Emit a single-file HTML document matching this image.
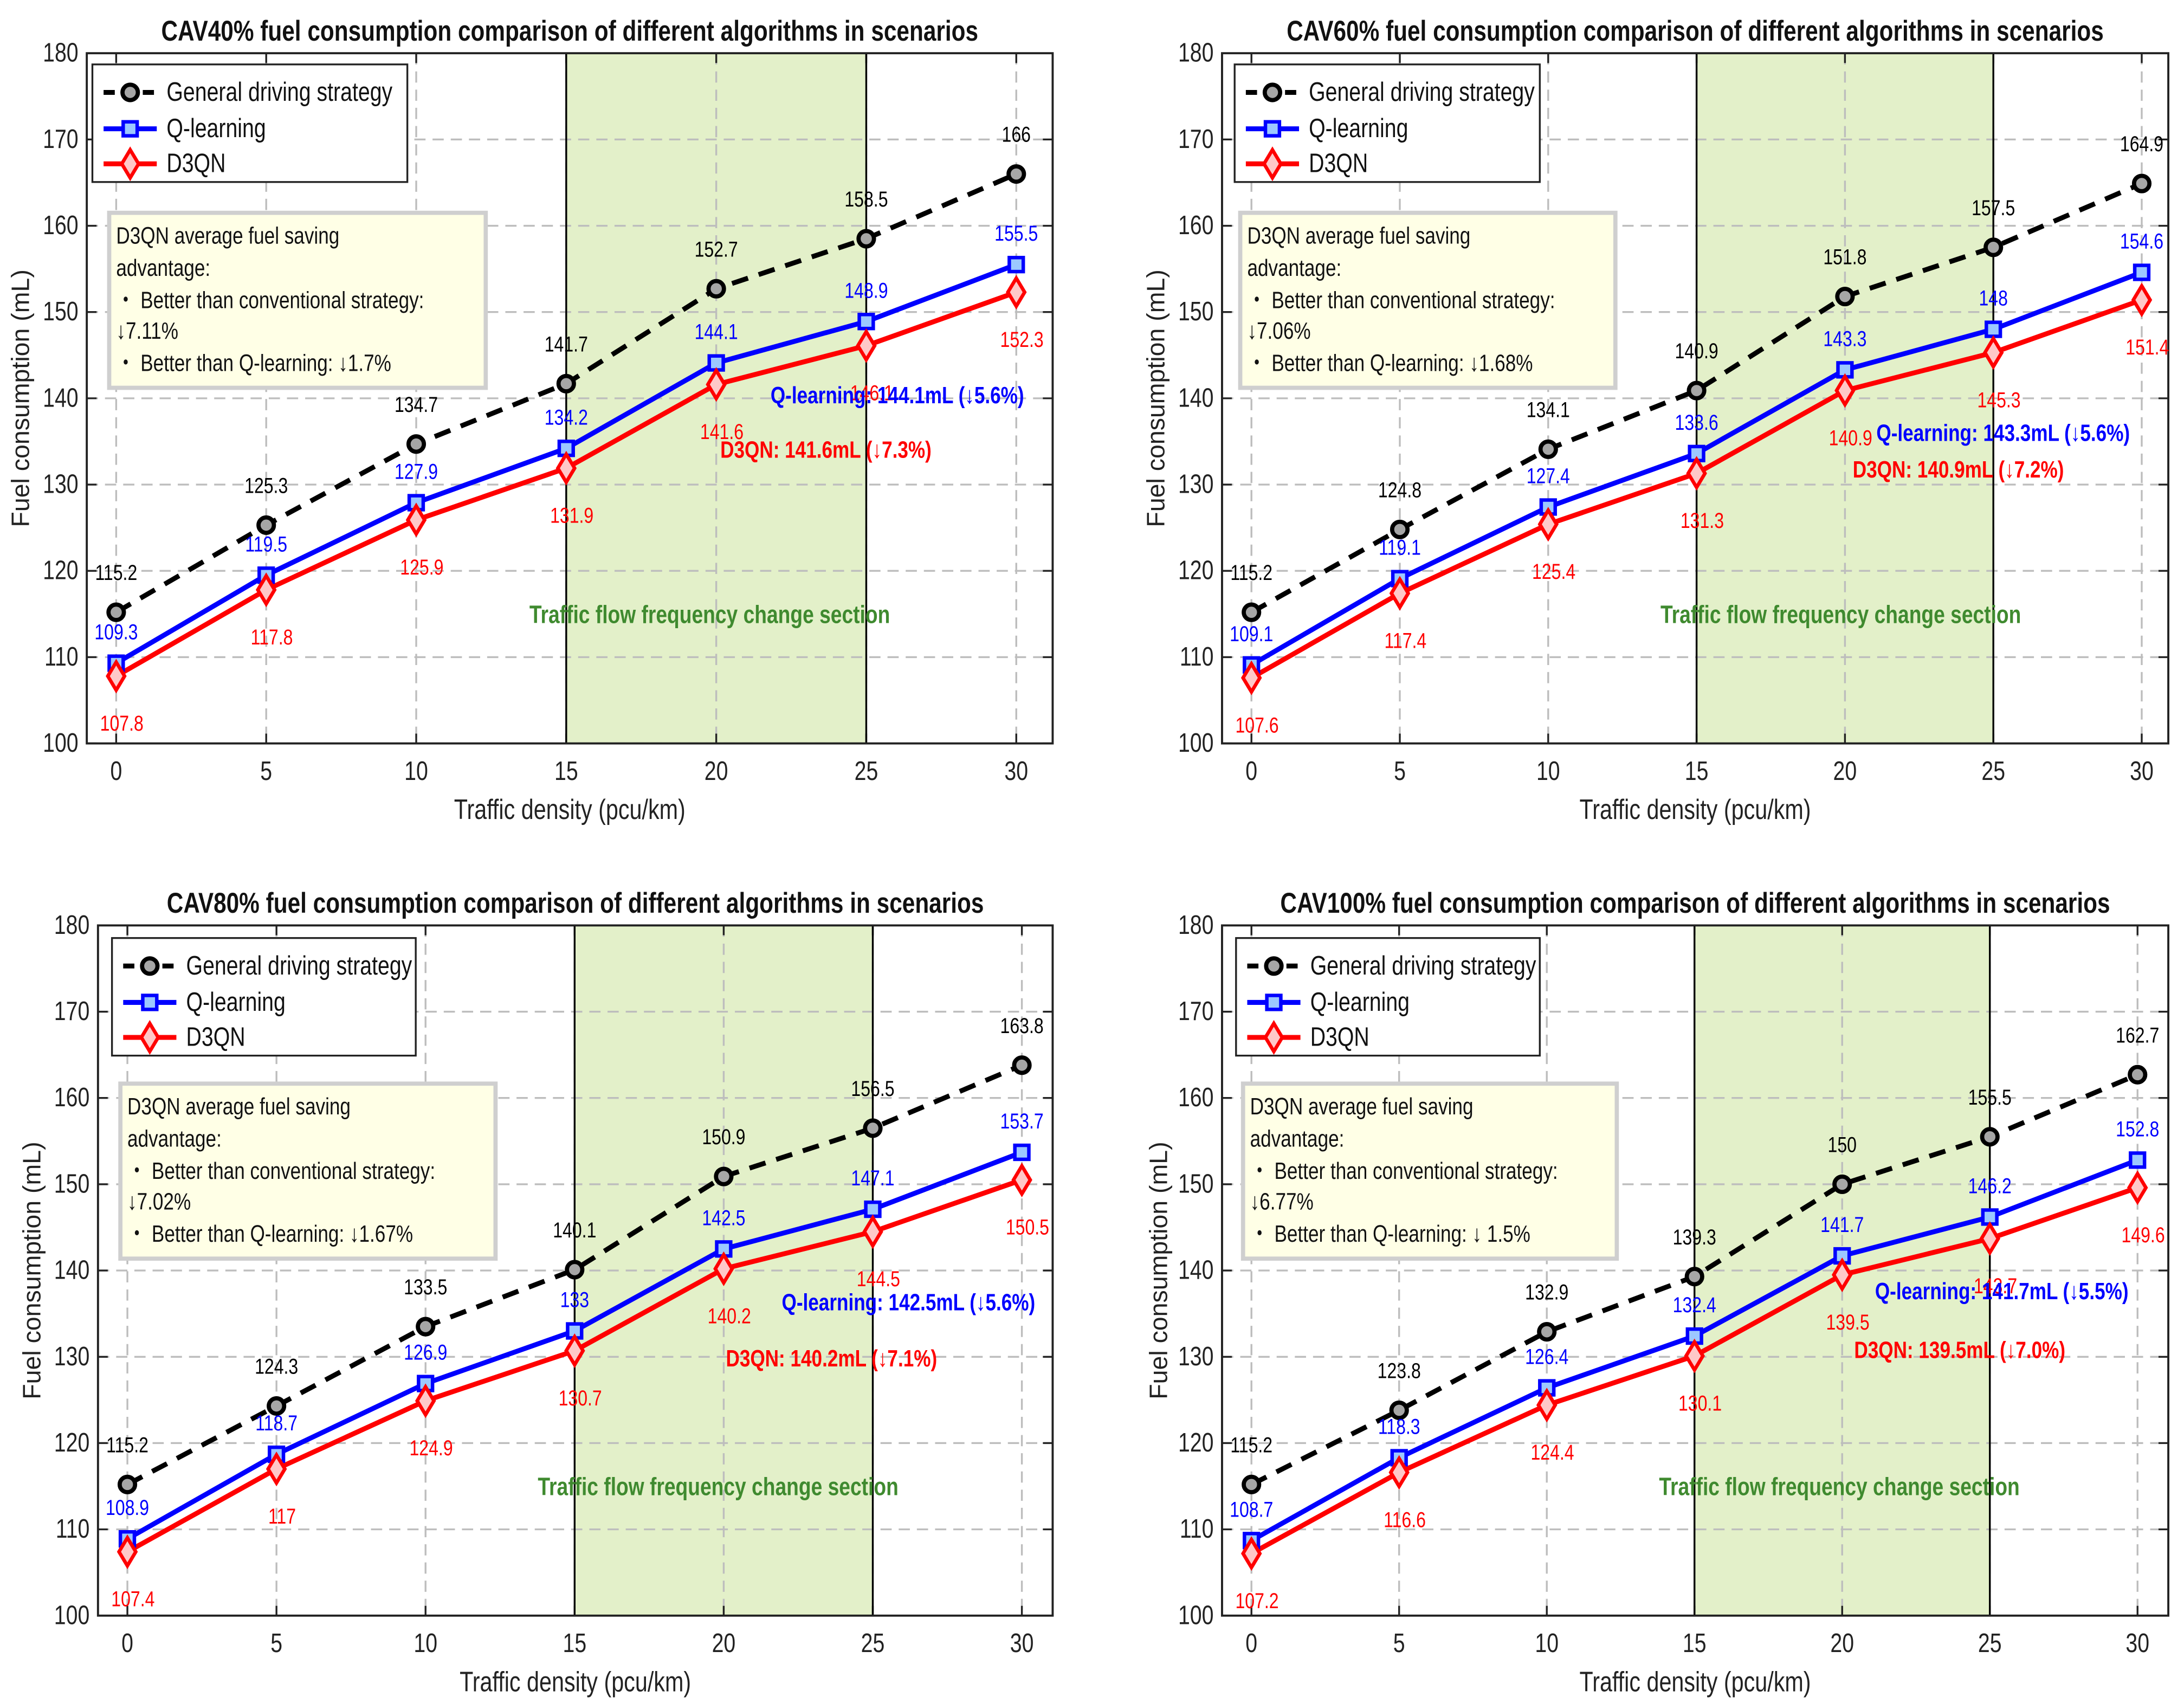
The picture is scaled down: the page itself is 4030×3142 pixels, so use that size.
<!DOCTYPE html>
<html><head><meta charset="utf-8">
<style>
html,body{margin:0;padding:0;background:#fff;}
svg{display:block;}
text{font-family:"Liberation Sans Narrow","Liberation Sans",sans-serif;}
</style></head>
<body>
<svg id="fig" xmlns="http://www.w3.org/2000/svg" width="4030" height="3142" viewBox="0 0 1560.2 1216.4"></svg>
<script>
const xCategories = [0, 5, 10, 15, 20, 25, 30];
const yTicks = [100, 110, 120, 130, 140, 150, 160, 170, 180];
const seriesNames = ["General driving strategy", "Q-learning", "D3QN"];
const generalP1 = [115.2, 125.3, 134.7, 141.7, 152.7, 158.5, 166];
const qlearnP1 = [109.3, 119.5, 127.9, 134.2, 144.1, 148.9, 155.5];
const d3qnP1 = [107.8, 117.8, 125.9, 131.9, 141.6, 146.1, 152.3];
const generalP2 = [115.2, 124.8, 134.1, 140.9, 151.8, 157.5, 164.9];
const qlearnP2 = [109.1, 119.1, 127.4, 133.6, 143.3, 148, 154.6];
const d3qnP2 = [107.6, 117.4, 125.4, 131.3, 140.9, 145.3, 151.4];
const generalP3 = [115.2, 124.3, 133.5, 140.1, 150.9, 156.5, 163.8];
const qlearnP3 = [108.9, 118.7, 126.9, 133, 142.5, 147.1, 153.7];
const d3qnP3 = [107.4, 117, 124.9, 130.7, 140.2, 144.5, 150.5];
const generalP4 = [115.2, 123.8, 132.9, 139.3, 150, 155.5, 162.7];
const qlearnP4 = [108.7, 118.3, 126.4, 132.4, 141.7, 146.2, 152.8];
const d3qnP4 = [107.2, 116.6, 124.4, 130.1, 139.5, 143.7, 149.6];
const shadedRange = [15, 25];
const titles = ["CAV40% fuel consumption comparison of different algorithms in scenarios","CAV60% fuel consumption comparison of different algorithms in scenarios","CAV80% fuel consumption comparison of different algorithms in scenarios","CAV100% fuel consumption comparison of different algorithms in scenarios"];
const convSaving = ["\u21937.11%","\u21937.06%","\u21937.02%","\u21936.77%"];
const qSaving = ["\u21931.7%","\u21931.68%","\u21931.67%","\u2193 1.5%"];
const qSummary = ["Q-learning: 144.1mL (\u21935.6%)","Q-learning: 143.3mL (\u21935.6%)","Q-learning: 142.5mL (\u21935.6%)","Q-learning: 141.7mL (\u21935.5%)"];
const dSummary = ["D3QN: 141.6mL (\u21937.3%)","D3QN: 140.9mL (\u21937.2%)","D3QN: 140.2mL (\u21937.1%)","D3QN: 139.5mL (\u21937.0%)"];

const layouts = [
 {L:62,R:752,T:38,B:531,x0:83,x30:726,leg:[66,46,225],box:[78,152,269],yl:16,qs:[641,282],ds:[590,321],tf:[507,439]},
 {L:873,R:1549,T:38,B:531,x0:894,x30:1530,leg:[882,46,218],box:[886,152,268],yl:827,qs:[1431,309],ds:[1399,335],tf:[1315,439]},
 {L:70,R:752,T:661,B:1154,x0:91,x30:730,leg:[80,670,217],box:[86,774,268],yl:24,qs:[649,930],ds:[594,970],tf:[513,1062]},
 {L:873,R:1549,T:661,B:1154,x0:894,x30:1527,leg:[883,670,217],box:[888,774,267],yl:829,qs:[1430,922],ds:[1400,964],tf:[1314,1062]}
];
const seriesData = [[generalP1,qlearnP1,d3qnP1],[generalP2,qlearnP2,d3qnP2],[generalP3,qlearnP3,d3qnP3],[generalP4,qlearnP4,d3qnP4]];

const NS = "http://www.w3.org/2000/svg";
const svg = document.getElementById("fig");
const SX = 0.8;
function mk(tag, attrs, parent, txt){
  const e = document.createElementNS(NS, tag);
  for (const k in attrs) e.setAttribute(k, attrs[k]);
  if (txt !== undefined) e.textContent = txt;
  (parent||svg).appendChild(e);
  return e;
}
function T(parent, x, y, str, attrs){
  const a = Object.assign({x:0, y:0, transform:`translate(${x},${y}) scale(${SX},1)`}, attrs);
  return mk("text", a, parent, str);
}
function marker(g, kind, x, y){
  let m;
  if (kind === 0) m = mk("circle",{cx:x,cy:y,r:5.5,fill:"#a6a6a6",stroke:"#000","stroke-width":3},g);
  else if (kind === 1) m = mk("rect",{x:x-5,y:y-5,width:10,height:10,fill:"#9cc8ff",stroke:"#0000ff","stroke-width":2.5},g);
  else m = mk("polygon",{points:`${x},${y-10} ${x+6},${y} ${x},${y+10} ${x-6},${y}`,fill:"#ffc8c8",stroke:"#ff0000","stroke-width":2.5},g);
  return m;
}
const colors = ["#000","#0000ff","#ff0000"];

layouts.forEach((P, pi) => {
  const g = mk("g",{});
  
  
  const xs = v => P.x0 + (v - xCategories[0]) / (xCategories[xCategories.length-1] - xCategories[0]) * (P.x30 - P.x0);
  const ys = v => P.B - (v - yTicks[0]) / (yTicks[yTicks.length-1] - yTicks[0]) * (P.B - P.T);
  const sh = mk("rect",{x:xs(shadedRange[0]),y:P.T,width:xs(shadedRange[1])-xs(shadedRange[0]),height:P.B-P.T,fill:"#e3f0c9"},g);
  
  
  yTicks.forEach(t => {
    const gl = mk("line",{x1:P.L,x2:P.R,y1:ys(t),y2:ys(t),stroke:"#bdbdbd","stroke-width":1.3,"stroke-dasharray":"8,5"},g);
    
    
    mk("line",{x1:P.L,x2:P.L+7,y1:ys(t),y2:ys(t),stroke:"#222","stroke-width":1.3},g);
    mk("line",{x1:P.R,x2:P.R-7,y1:ys(t),y2:ys(t),stroke:"#222","stroke-width":1.3},g);
    const tl = T(g, P.L-6, ys(t)+6, String(t), {"text-anchor":"end","font-size":19,fill:"#222"});
    
    
  });
  xCategories.forEach(c => {
    const gl = mk("line",{x1:xs(c),x2:xs(c),y1:P.T,y2:P.B,stroke:"#bdbdbd","stroke-width":1.3,"stroke-dasharray":"8,5"},g);
    
    
    mk("line",{x1:xs(c),x2:xs(c),y1:P.B,y2:P.B-7,stroke:"#222","stroke-width":1.3},g);
    mk("line",{x1:xs(c),x2:xs(c),y1:P.T,y2:P.T+7,stroke:"#222","stroke-width":1.3},g);
    const tl = T(g, xs(c), P.B+26, String(c), {"text-anchor":"middle","font-size":19,fill:"#222"});
    
    
  });
  [shadedRange[0],shadedRange[1]].forEach(v=>{
    const b = mk("line",{x1:xs(v),x2:xs(v),y1:P.T,y2:P.B,stroke:"#000","stroke-width":1.3},g);
    
    
  });
  const frame = mk("rect",{x:P.L,y:P.T,width:P.R-P.L,height:P.B-P.T,fill:"none",stroke:"#222","stroke-width":1.5},g);
  
  
  const tf = T(g, P.tf[0], P.tf[1]+6, "Traffic flow frequency change section", {"text-anchor":"middle","font-size":18,"font-weight":"bold",fill:"#3f8a2f"});
  
  
  seriesData[pi].forEach((arr, si) => {
    const pts = arr.map((v,i)=>xs(xCategories[i])+","+ys(v)).join(" ");
    const line = mk("polyline",{points:pts,fill:"none",stroke:colors[si],"stroke-width":3.5,"stroke-dasharray":si===0?"12,8":"none","stroke-linejoin":"round"},g);
    
    
  });
  seriesData[pi].forEach((arr, si) => {
    arr.forEach((v,i)=>{
      const m = marker(g, si, xs(xCategories[i]), ys(v));
      
      
      const dy = si===0 ? -23 : (si===1 ? -17 : 39);
      const dx = si===2 ? 4 : 0;
      const lab = T(g, xs(xCategories[i])+dx, ys(v)+dy, String(v), {"text-anchor":"middle","font-size":15.5,fill:colors[si]});
      
      
    });
  });
  const qs = T(g, P.qs[0], P.qs[1]+6, qSummary[pi], {"text-anchor":"middle","font-size":17,"font-weight":"bold",fill:"#0000ff"});
  
  
  const ds = T(g, P.ds[0], P.ds[1]+6, dSummary[pi], {"text-anchor":"middle","font-size":17,"font-weight":"bold",fill:"#ff0000"});
  
  
  const [lx,ly,lw] = P.leg;
  const lg = mk("g",{},g);
  
  
  mk("rect",{x:lx,y:ly,width:lw,height:84,fill:"#fff",stroke:"#222","stroke-width":1.3},lg);
  [20,46,71].forEach((dy,si)=>{
    const e = mk("g",{},lg);
    
    
    mk("line",{x1:lx+8,x2:lx+46,y1:ly+dy,y2:ly+dy,stroke:colors[si],"stroke-width":3.5,"stroke-dasharray":si===0?"8,6":"none"},e);
    marker(e, si, lx+27, ly+dy);
    T(e, lx+53, ly+dy+6, seriesNames[si], {"font-size":19,fill:"#111"});
  });
  const [bx,by,bw] = P.box;
  const ab = mk("g",{},g);
  
  
  mk("rect",{x:bx,y:by,width:bw,height:125,fill:"#ffffe6",stroke:"#cfcfcf","stroke-width":3},ab);
  const lines = ["D3QN average fuel saving","advantage:","\u30FB Better than conventional strategy:",convSaving[pi],"\u30FB Better than Q-learning: "+qSaving[pi]];
  [16,39,62,84,107].forEach((dy,k)=>{
    T(ab, bx+5, by+dy+6, lines[k], {"font-size":17,fill:"#111"});
  });
  const cx = (P.L+P.R)/2;
  const tt = T(g, cx, P.T-9, titles[pi], {"text-anchor":"middle","font-size":20.5,"font-weight":"bold",fill:"#111"});
  
  
  const xl = T(g, cx, P.B+54, "Traffic density  (pcu/km)", {"text-anchor":"middle","font-size":20,fill:"#222"});
  
  
  const ym = (P.T+P.B)/2;
  const yl = mk("text",{x:P.yl,y:ym,"text-anchor":"middle","font-size":18,fill:"#222",transform:`rotate(-90 ${P.yl} ${ym})`,"dominant-baseline":"middle",style:"font-family:'Liberation Sans',sans-serif"},g,"Fuel consumption (mL)");
  
  
});
</script>
</body></html>
